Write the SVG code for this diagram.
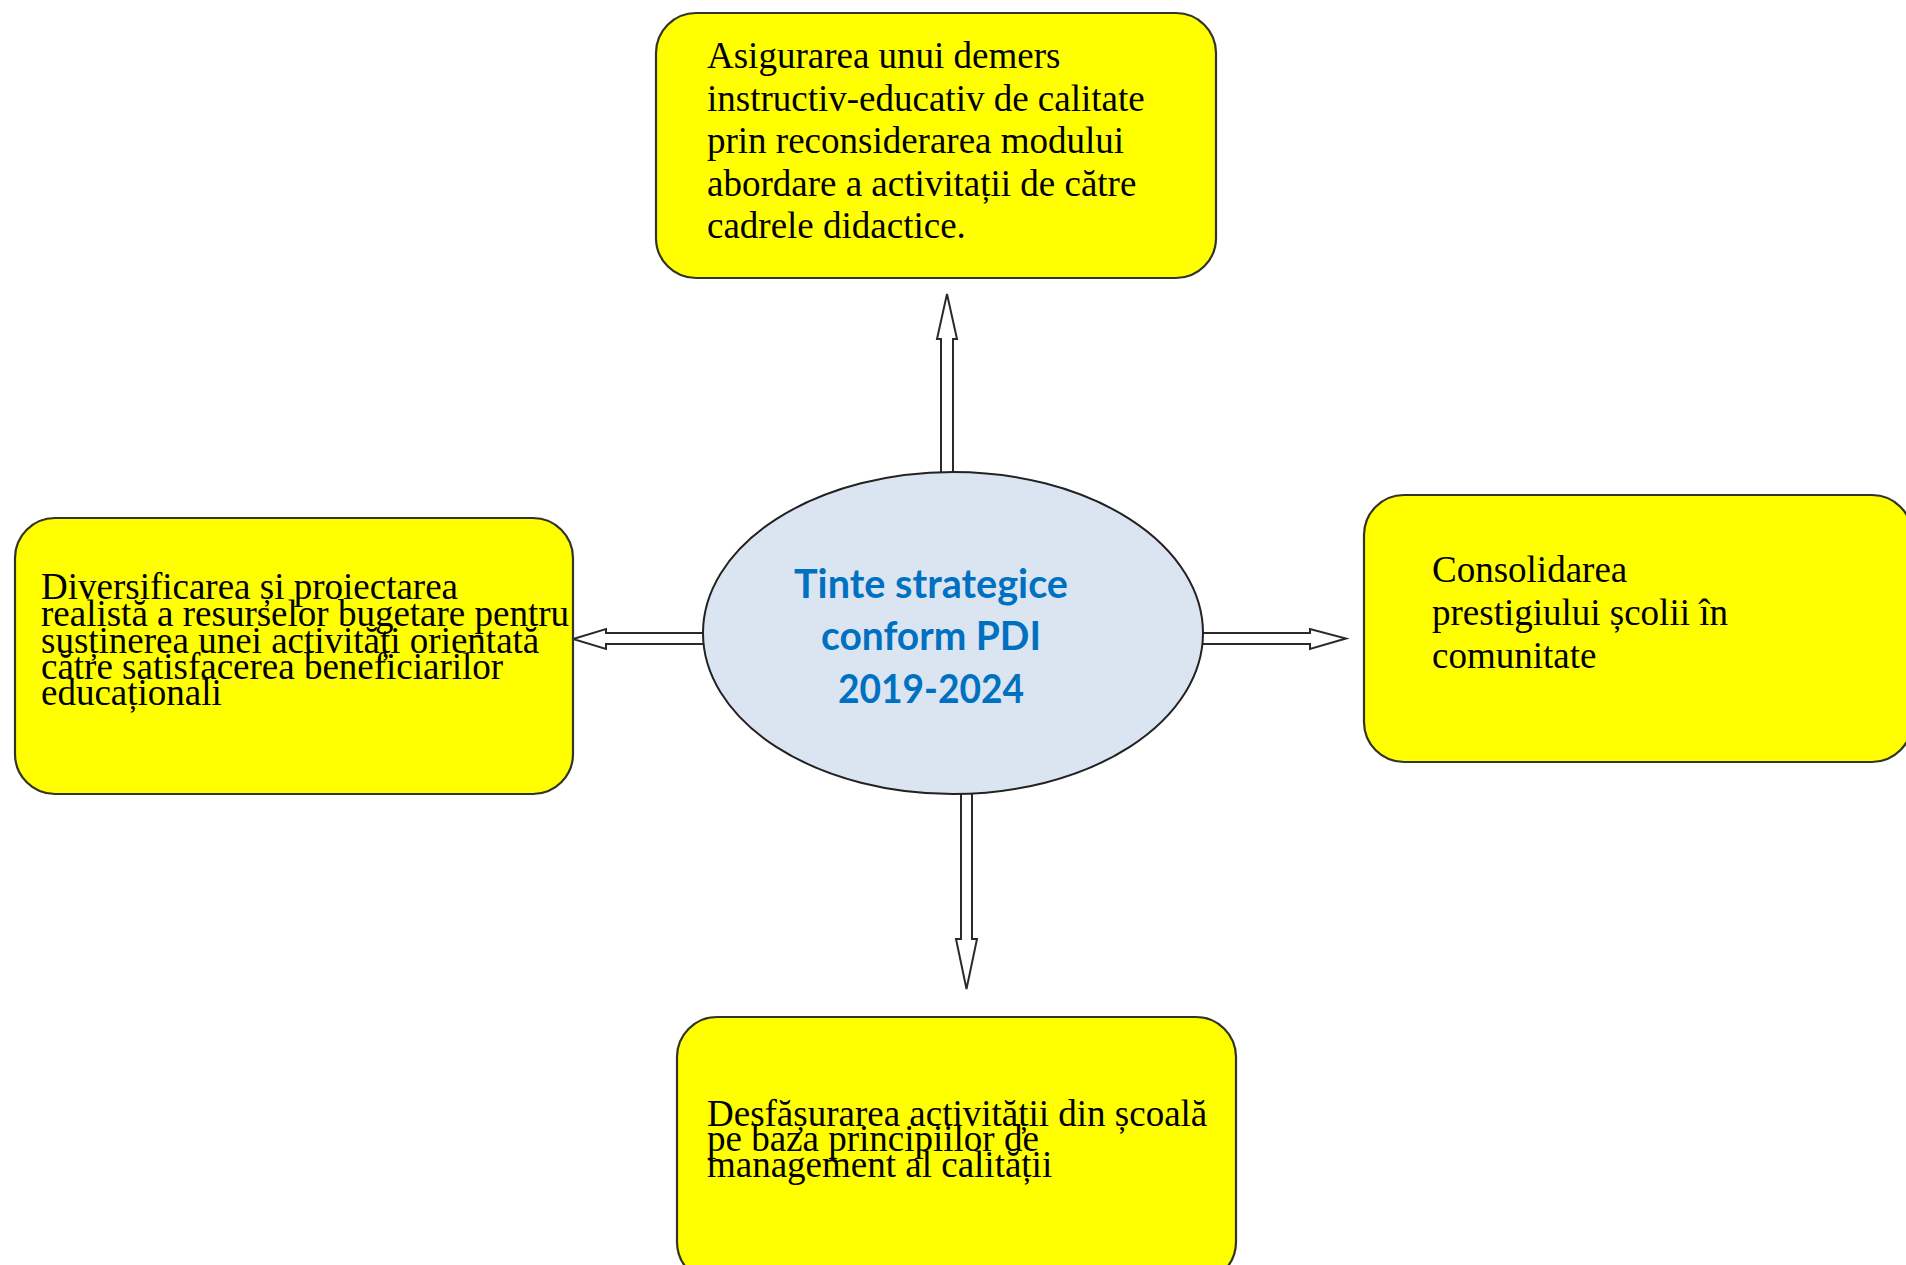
<svg xmlns="http://www.w3.org/2000/svg" width="1906" height="1265" viewBox="0 0 1906 1265">
<style>
.box{fill:#ffff00;stroke:#333326;stroke-width:2.2}
.t{font-family:"Liberation Serif","Times New Roman",serif;font-size:37px;fill:#000}
.arr{fill:#ffffff;stroke:#2a2a2a;stroke-width:2;stroke-linejoin:miter}
.c{font-family:Lato,"Open Sans",sans-serif;font-weight:bold;font-size:40px;fill:#0070c0;text-anchor:middle}
</style>
<rect width="1906" height="1265" fill="#ffffff"/>
<g id="connectors">
<polygon class="arr" points="941,476 941,339 937,339 947,294 957,339 953,339 953,476"/>
<polygon class="arr" points="961,790 961,939 956,939 966.5,989 977,939 972,939 972,790"/>
<polygon class="arr" points="706,633 606,633 606,629 573,639 606,649 606,644 706,644"/>
<polygon class="arr" points="1200,633 1310,633 1310,629 1346,638.5 1310,649 1310,644 1200,644"/>
</g>
<g id="center">
<ellipse cx="953" cy="633" rx="250" ry="161" fill="#dbe5f1" stroke="#222" stroke-width="2"/>
<text class="c" x="931" y="598" textLength="274" lengthAdjust="spacingAndGlyphs">Tinte strategice</text>
<text class="c" x="931" y="650" textLength="220" lengthAdjust="spacingAndGlyphs">conform PDI</text>
<text class="c" x="931" y="703" textLength="186" lengthAdjust="spacingAndGlyphs">2019-2024</text>
</g>
<g id="top">
<rect class="box" x="656" y="13" width="560" height="265" rx="40" ry="40"/>
<text class="t" x="707" y="68">Asigurarea unui demers</text>
<text class="t" x="707" y="111">instructiv-educativ de calitate</text>
<text class="t" x="707" y="153">prin reconsiderarea modului</text>
<text class="t" x="707" y="196">abordare a activitații de către</text>
<text class="t" x="707" y="238">cadrele didactice.</text>
</g>
<g id="left">
<rect class="box" x="15" y="518" width="558" height="276" rx="40" ry="40"/>
<text class="t" x="41" y="599">Diversificarea și proiectarea</text>
<text class="t" x="41" y="626">realistă a resurselor bugetare pentru</text>
<text class="t" x="41" y="653">susținerea unei activități orientată</text>
<text class="t" x="41" y="679">către satisfacerea beneficiarilor</text>
<text class="t" x="41" y="705">educaționali</text>
</g>
<g id="right">
<rect class="box" x="1364" y="495" width="548" height="267" rx="40" ry="40"/>
<text class="t" x="1432" y="582">Consolidarea</text>
<text class="t" x="1432" y="625">prestigiului școlii în</text>
<text class="t" x="1432" y="668">comunitate</text>
</g>
<g id="bottom">
<rect class="box" x="677" y="1017" width="559" height="265" rx="40" ry="40"/>
<text class="t" x="707" y="1126">Desfășurarea activității din școală</text>
<text class="t" x="707" y="1151">pe baza principiilor de</text>
<text class="t" x="707" y="1177">management al calității</text>
</g>
</svg>
